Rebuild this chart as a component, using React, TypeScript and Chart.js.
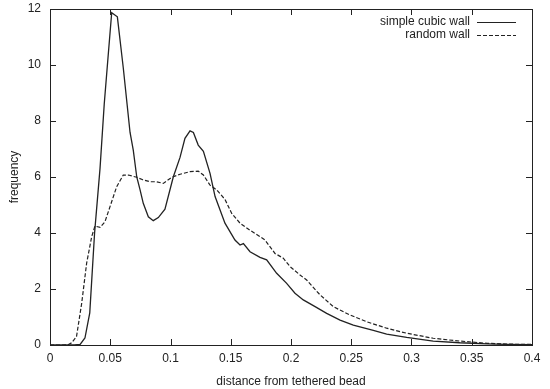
import React, { useEffect, useRef } from "react";
import { Chart, registerables } from "chart.js";

Chart.register(...registerables);

const solidLabel = "simple cubic wall";
const randomLabel = "random wall";
const xTitle = "distance from tethered bead";
const yTitle = "frequency";

const xTicks = [0, 0.05, 0.1, 0.15, 0.2, 0.25, 0.3, 0.35, 0.4];
const yTicks = [0, 2, 4, 6, 8, 10, 12];

const solidX = [
  0, 0.01, 0.02, 0.025, 0.029, 0.033, 0.037, 0.0415, 0.045, 0.0484, 0.0512, 0.0559,
  0.0608, 0.0664, 0.0691, 0.072, 0.0747, 0.0774, 0.0816, 0.0857, 0.0899, 0.0954,
  0.1023, 0.1079, 0.112, 0.1162, 0.119, 0.123, 0.1273, 0.1328, 0.137, 0.1452,
  0.1535, 0.1577, 0.1605, 0.166, 0.1743, 0.1798, 0.1881, 0.1964, 0.2033, 0.2102,
  0.22, 0.2296, 0.2407, 0.2517, 0.2683, 0.2794, 0.296, 0.318, 0.34, 0.363, 0.38, 0.4,
];
const solidY = [
  0, 0, 0, 0.02, 0.25, 1.15, 4.0, 6.3, 8.6, 10.4, 11.87, 11.72,
  9.9, 7.6, 6.96, 6.0, 5.55, 5.06, 4.58, 4.44, 4.55, 4.85,
  6.0, 6.7, 7.38, 7.65, 7.59, 7.14, 6.92, 6.13, 5.3, 4.35,
  3.75, 3.57, 3.62, 3.33, 3.13, 3.04, 2.56, 2.2, 1.85, 1.61,
  1.37, 1.13, 0.89, 0.71, 0.52, 0.39, 0.27, 0.14, 0.08, 0.04, 0.02, 0.01,
];

const randomX = [
  0, 0.01, 0.015, 0.018, 0.022, 0.0263, 0.0304, 0.0346, 0.0373, 0.0415, 0.0456, 0.0498,
  0.0553, 0.0608, 0.065, 0.072, 0.077, 0.083, 0.0885, 0.094, 0.101, 0.108, 0.1162,
  0.123, 0.1273, 0.1328, 0.1383, 0.1452, 0.1508, 0.1577, 0.166, 0.1743, 0.1784,
  0.1867, 0.1936, 0.1992, 0.2075, 0.213, 0.2241, 0.2351, 0.249, 0.2628, 0.2794,
  0.296, 0.318, 0.34, 0.363, 0.38, 0.4,
];
const randomY = [
  0, 0, 0.01, 0.08, 0.3, 1.49, 2.92, 3.87, 4.25, 4.2, 4.4, 4.94,
  5.65, 6.07, 6.07, 5.99, 5.9, 5.83, 5.83, 5.77, 5.99, 6.1, 6.19,
  6.21, 6.07, 5.71, 5.54, 5.2, 4.7, 4.35, 4.1, 3.87, 3.75,
  3.27, 3.1, 2.8, 2.5, 2.32, 1.79, 1.37, 1.07, 0.83, 0.6,
  0.42, 0.24, 0.14, 0.06, 0.03, 0.02,
];

const INK = "#222";
const DASH = [4, 2];

const framePlugin = {
  id: "gnuplotFrame",
  afterDatasetsDraw(chart: any) {
    const { ctx, chartArea, scales } = chart;
    const { left, right, top, bottom } = chartArea;
    ctx.save();
    ctx.strokeStyle = INK;
    ctx.lineWidth = 1;
    ctx.setLineDash([]);
    ctx.strokeRect(left + 0.5, top + 0.5, right - left, bottom - top);
    const tl = 6;
    ctx.beginPath();
    xTicks.forEach((v) => {
      const px = Math.round(scales.x.getPixelForValue(v)) + 0.5;
      ctx.moveTo(px, bottom);
      ctx.lineTo(px, bottom - tl);
      ctx.moveTo(px, top);
      ctx.lineTo(px, top + tl);
    });
    yTicks.forEach((v) => {
      const py = Math.round(scales.y.getPixelForValue(v)) + 0.5;
      ctx.moveTo(left, py);
      ctx.lineTo(left + tl, py);
      ctx.moveTo(right, py);
      ctx.lineTo(right - tl, py);
    });
    ctx.stroke();

    // legend (gnuplot style, inside top-right)
    ctx.font = "12px 'Liberation Sans', Arial, sans-serif";
    ctx.fillStyle = INK;
    ctx.textAlign = "right";
    ctx.textBaseline = "middle";
    const textRight = right - 62;
    const sampleL = right - 55;
    const sampleR = right - 16;
    const rows = [
      { label: solidLabel, dash: [] as number[], y: top + 13 },
      { label: randomLabel, dash: DASH, y: top + 26 },
    ];
    rows.forEach((r) => {
      ctx.fillText(r.label, textRight, r.y);
      ctx.beginPath();
      ctx.setLineDash(r.dash);
      ctx.lineWidth = 1.2;
      ctx.moveTo(sampleL, r.y + 0.5);
      ctx.lineTo(sampleR, r.y + 0.5);
      ctx.stroke();
    });
    ctx.restore();
  },
};

export default function App() {
  const ref = useRef<HTMLCanvasElement | null>(null);

  useEffect(() => {
    document.body.style.margin = "0";
    if (!ref.current) return;
    Chart.defaults.font.family = "'Liberation Sans', Arial, sans-serif";
    Chart.defaults.font.size = 12;
    Chart.defaults.color = INK;

    const chart = new Chart(ref.current, {
      type: "line",
      data: {
        datasets: [
          {
            label: solidLabel,
            data: solidX.map((x, i) => ({ x, y: solidY[i] })),
            borderColor: INK,
            borderWidth: 1.3,
            pointRadius: 0,
            tension: 0,
            fill: false,
          },
          {
            label: randomLabel,
            data: randomX.map((x, i) => ({ x, y: randomY[i] })),
            borderColor: INK,
            borderWidth: 1.2,
            borderDash: DASH,
            pointRadius: 0,
            tension: 0,
            fill: false,
          },
        ],
      },
      options: {
        responsive: false,
        animation: false,
        devicePixelRatio: 1,
        layout: { padding: { top: 9, right: 18, left: 0, bottom: 0 } },
        plugins: {
          legend: { display: false },
          tooltip: { enabled: false },
        },
        scales: {
          x: {
            type: "linear",
            min: 0,
            max: 0.4,
            grid: { display: false, drawTicks: false },
            border: { display: false },
            ticks: {
              stepSize: 0.05,
              padding: 6,
              maxRotation: 0,
              autoSkip: false,
              callback: (v: any) => String(Number(Number(v).toFixed(2))),
            },
            afterBuildTicks: (s: any) => {
              s.ticks = xTicks.map((v) => ({ value: v }));
            },
            title: { display: true, text: xTitle, padding: { top: 2, bottom: 0 } },
            afterFit: (s: any) => {
              s.height = 44;
            },
          },
          y: {
            min: 0,
            max: 12,
            grid: { display: false, drawTicks: false },
            border: { display: false },
            ticks: { stepSize: 2, padding: 9 },
            afterBuildTicks: (s: any) => {
              s.ticks = yTicks.map((v) => ({ value: v }));
            },
            title: { display: true, text: yTitle, padding: { top: 7, bottom: 0 } },
            afterFit: (s: any) => {
              s.width = 50;
              s.paddingTop = 0;
              s.paddingBottom = 0;
            },
          },
        },
      },
      plugins: [framePlugin],
    });
    return () => chart.destroy();
  }, []);

  return (
    <div style={{ position: "absolute", left: 0, top: 0, width: 550, height: 389 }}>
      <canvas ref={ref} width={550} height={389} style={{ width: 550, height: 389 }} />
    </div>
  );
}
